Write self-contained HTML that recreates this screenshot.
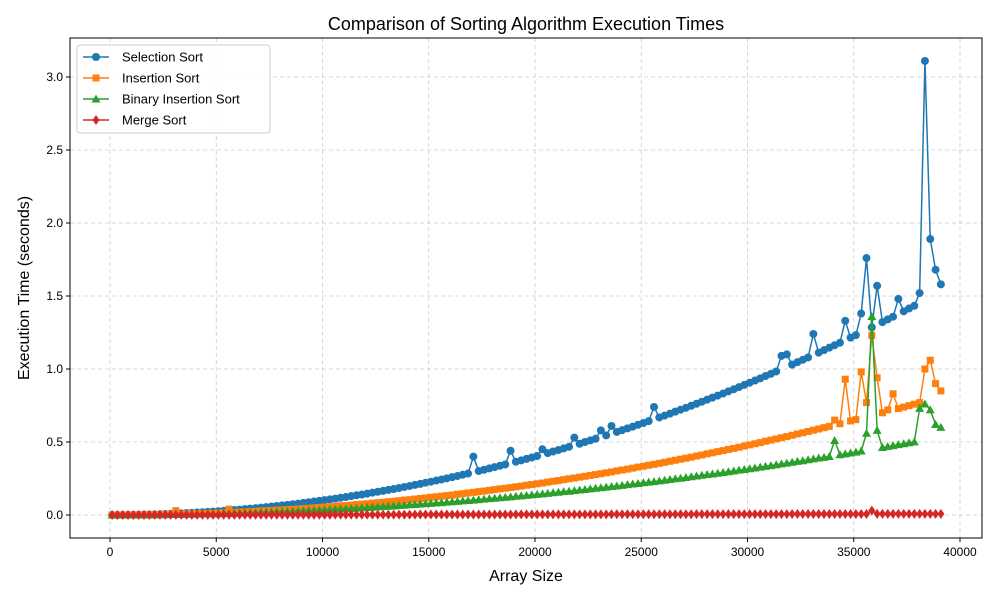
<!DOCTYPE html>
<html><head><meta charset="utf-8"><style>
body{margin:0;background:#fff;font-family:"Liberation Sans",sans-serif}
svg text{font-family:"Liberation Sans",sans-serif}
</style></head><body>
<svg id="chart" width="1000" height="600" viewBox="0 0 1000 600" xmlns="http://www.w3.org/2000/svg">
<rect width="1000" height="600" fill="#fff"/>
<g id="grid"></g><g id="series"></g><g id="axes"></g>
<text x="526" y="30" font-size="18" text-anchor="middle" fill="#000">Comparison of Sorting Algorithm Execution Times</text>
<text x="526" y="581" font-size="16" text-anchor="middle">Array Size</text>
<text transform="translate(29,288) rotate(-90)" font-size="16" text-anchor="middle">Execution Time (seconds)</text>
<g id="legend"></g>
</svg>
<script>
const xTicks=[0,5000,10000,15000,20000,25000,30000,35000,40000];
const yTicks=[0.0,0.5,1.0,1.5,2.0,2.5,3.0];
const sizeStart=100, sizeStep=250;
const selection=[0,0.0001,0.0004,0.0007,0.0012,0.0018,0.0026,0.0034,0.0044,0.0055,0.0068,0.0081,0.0096,0.0112,0.013,0.0148,0.0168,0.0189,0.0212,0.0235,
0.026,0.0286,0.0314,0.0342,0.0372,0.0403,0.0436,0.0469,0.0504,0.054,0.0578,0.0616,0.0656,0.0697,0.074,0.0783,0.0828,0.0874,0.0922,0.097,
0.102,0.107,0.112,0.118,0.123,0.129,0.135,0.140,0.146,0.153,0.159,0.165,0.172,0.178,0.185,0.192,0.199,0.206,0.213,0.221,
0.228,0.236,0.243,0.251,0.259,0.267,0.276,0.284,0.40,0.301,0.310,0.319,0.328,0.337,0.346,0.44,0.365,0.374,0.384,0.394,
0.404,0.45,0.424,0.435,0.445,0.456,0.467,0.53,0.488,0.500,0.511,0.522,0.58,0.545,0.61,0.569,0.581,0.593,0.605,0.618,
0.630,0.643,0.74,0.668,0.681,0.694,0.708,0.721,0.734,0.748,0.762,0.776,0.790,0.804,0.818,0.832,0.847,0.861,0.876,0.891,
0.906,0.921,0.936,0.952,0.967,0.983,1.09,1.10,1.030,1.047,1.063,1.079,1.24,1.112,1.129,1.146,1.163,1.180,1.33,1.215,
1.232,1.38,1.76,1.285,1.57,1.321,1.340,1.358,1.48,1.395,1.414,1.433,1.52,3.11,1.89,1.68,1.58];
const insertion=[0,0,0,0,0.001,0.001,0.001,0.002,0.002,0.003,0.004,0.004,0.03,0.006,0.007,0.008,0.009,0.010,0.011,0.012,
0.014,0.015,0.04,0.018,0.020,0.021,0.023,0.025,0.027,0.029,0.031,0.033,0.035,0.037,0.039,0.041,0.044,0.046,0.049,0.051,
0.054,0.057,0.059,0.063,0.065,0.068,0.072,0.074,0.077,0.081,0.084,0.087,0.091,0.094,0.098,0.102,0.105,0.109,0.113,0.117,
0.121,0.125,0.129,0.133,0.137,0.142,0.146,0.151,0.155,0.160,0.164,0.169,0.174,0.179,0.183,0.188,0.193,0.198,0.204,0.209,
0.214,0.219,0.225,0.231,0.236,0.242,0.248,0.253,0.259,0.265,0.271,0.277,0.283,0.289,0.295,0.302,0.308,0.314,0.321,0.328,
0.334,0.341,0.347,0.354,0.361,0.368,0.375,0.382,0.389,0.396,0.404,0.411,0.419,0.426,0.434,0.441,0.449,0.456,0.464,0.472,
0.480,0.488,0.496,0.505,0.513,0.521,0.529,0.537,0.546,0.555,0.563,0.572,0.581,0.589,0.598,0.607,0.65,0.625,0.93,0.644,
0.653,0.98,0.77,1.23,0.94,0.700,0.72,0.83,0.729,0.739,0.749,0.759,0.770,1.00,1.06,0.90,0.85];
const binary=[0,0,0,0,0,0.001,0.001,0.001,0.002,0.002,0.002,0.003,0.003,0.004,0.005,0.005,0.006,0.007,0.007,0.008,
0.009,0.010,0.011,0.012,0.013,0.014,0.015,0.016,0.018,0.019,0.020,0.022,0.023,0.024,0.026,0.027,0.029,0.031,0.032,0.034,
0.036,0.037,0.039,0.041,0.043,0.045,0.047,0.049,0.051,0.054,0.056,0.058,0.060,0.062,0.065,0.067,0.070,0.072,0.075,0.077,
0.080,0.083,0.085,0.088,0.091,0.093,0.097,0.099,0.102,0.105,0.109,0.112,0.115,0.118,0.121,0.124,0.128,0.131,0.134,0.138,
0.141,0.145,0.148,0.152,0.156,0.160,0.163,0.167,0.171,0.175,0.179,0.183,0.187,0.191,0.195,0.199,0.203,0.208,0.212,0.216,
0.221,0.225,0.229,0.234,0.238,0.243,0.248,0.252,0.257,0.262,0.267,0.272,0.277,0.281,0.286,0.291,0.296,0.301,0.307,0.312,
0.317,0.322,0.328,0.333,0.338,0.344,0.350,0.355,0.361,0.367,0.372,0.378,0.384,0.390,0.395,0.401,0.51,0.413,0.419,0.425,
0.431,0.438,0.56,1.36,0.58,0.462,0.469,0.475,0.482,0.488,0.495,0.501,0.73,0.76,0.72,0.62,0.60];
const merge=[0.0001,0.0001,0.0002,0.0002,0.0003,0.0003,0.0004,0.0004,0.0005,0.0005,0.0006,0.0006,0.0007,0.0007,0.0008,0.0008,0.0009,0.0009,0.001,0.001,
0.0011,0.0011,0.0012,0.0012,0.0013,0.0013,0.0014,0.0014,0.0015,0.0015,0.0016,0.0016,0.0017,0.0017,0.0018,0.0018,0.0019,0.0019,0.002,0.002,
0.0021,0.0021,0.0022,0.0022,0.0023,0.0023,0.0024,0.0024,0.0025,0.0025,0.0026,0.0026,0.0027,0.0027,0.0028,0.0028,0.0029,0.0029,0.003,0.003,
0.0031,0.0031,0.0032,0.0032,0.0033,0.0033,0.0034,0.0034,0.0035,0.0035,0.0036,0.0036,0.0037,0.0037,0.0038,0.0038,0.0039,0.0039,0.004,0.004,
0.0041,0.0041,0.0042,0.0042,0.0043,0.0043,0.0044,0.0044,0.0045,0.0045,0.0046,0.0046,0.0047,0.0047,0.0048,0.0048,0.0049,0.0049,0.005,0.005,
0.0051,0.0051,0.0052,0.0052,0.0053,0.0053,0.0054,0.0054,0.0055,0.0055,0.0056,0.0056,0.0057,0.0057,0.0058,0.0058,0.0059,0.0059,0.006,0.006,
0.0061,0.0061,0.0062,0.0062,0.0063,0.0063,0.0064,0.0064,0.0065,0.0065,0.0066,0.0066,0.0067,0.0067,0.0068,0.0068,0.0069,0.0069,0.007,0.007,
0.0071,0.0071,0.0072,0.03,0.0073,0.0073,0.0074,0.0074,0.0075,0.0075,0.0076,0.0076,0.0077,0.0077,0.0078,0.0078,0.0079];
const names=["Selection Sort","Insertion Sort","Binary Insertion Sort","Merge Sort"];
const colors=["#1f77b4","#ff7f0e","#2ca02c","#d62728"];
const NS="http://www.w3.org/2000/svg";
const L=70,R=982,T=38,B=538;
const xs=v=>110+v*(850/40000);
const ys=v=>515-v*146;
function mk(tag,attrs,parent){const e=document.createElementNS(NS,tag);for(const k in attrs)e.setAttribute(k,attrs[k]);parent.appendChild(e);return e;}
const grid=document.getElementById('grid'),axes=document.getElementById('axes'),ser=document.getElementById('series');
xTicks.forEach(t=>{const x=xs(t);
 const g=mk('line',{x1:x,x2:x,y1:T,y2:B,stroke:'#cccccc','stroke-dasharray':'4,3','stroke-width':0.8},grid);
 
 
 mk('line',{x1:x,x2:x,y1:B,y2:B+4,stroke:'#000'},axes);
 const tx=mk('text',{x:x,y:B+18,'font-size':12,'text-anchor':'middle'},axes);tx.textContent=t;
 
 
});
yTicks.forEach(t=>{const y=ys(t);
 const g=mk('line',{x1:L,x2:R,y1:y,y2:y,stroke:'#cccccc','stroke-dasharray':'4,3','stroke-width':0.8},grid);
 
 
 mk('line',{x1:L-4,x2:L,y1:y,y2:y,stroke:'#000'},axes);
 const tx=mk('text',{x:L-7,y:y+4,'font-size':12,'text-anchor':'end'},axes);tx.textContent=t.toFixed(1);
 
 
});
const frame=mk('rect',{x:L,y:T,width:R-L,height:B-T,fill:'none',stroke:'#000','stroke-width':1},axes);


function marker(kind,x,y,c,parent){
 if(kind===0)return mk('circle',{cx:x,cy:y,r:4,fill:c},parent);
 if(kind===1)return mk('rect',{x:x-3.5,y:y-3.5,width:7,height:7,fill:c},parent);
 if(kind===2)return mk('polygon',{points:`${x},${y-4.5} ${x+4.5},${y+3.5} ${x-4.5},${y+3.5}`,fill:c},parent);
 return mk('polygon',{points:`${x},${y-5} ${x+3.5},${y} ${x},${y+5} ${x-3.5},${y}`,fill:c},parent);
}
[selection,insertion,binary,merge].forEach((arr,si)=>{
 const g=mk('g',{},ser);
 
 
 const pts=arr.map((v,i)=>xs(sizeStart+i*sizeStep).toFixed(2)+','+ys(v).toFixed(2)).join(' ');
 mk('polyline',{points:pts,fill:'none',stroke:colors[si],'stroke-width':1.5},g);
 arr.forEach((v,i)=>{const m=marker(si,xs(sizeStart+i*sizeStep),ys(v),colors[si],g);
  
  });
});
const lg=document.getElementById('legend');
mk('rect',{x:77,y:45,width:193,height:88,rx:3,fill:'#fff','fill-opacity':0.85,stroke:'#ccc'},lg);
names.forEach((n,i)=>{const y=57+i*21;
 const e=mk('g',{},lg);
 
 
 mk('line',{x1:83,x2:109,y1:y,y2:y,stroke:colors[i],'stroke-width':1.5},e);
 marker(i,96,y,colors[i],e);
 const t=mk('text',{x:122,y:y+4.5,'font-size':13},e);t.textContent=n;
});
</script>
</body></html>
